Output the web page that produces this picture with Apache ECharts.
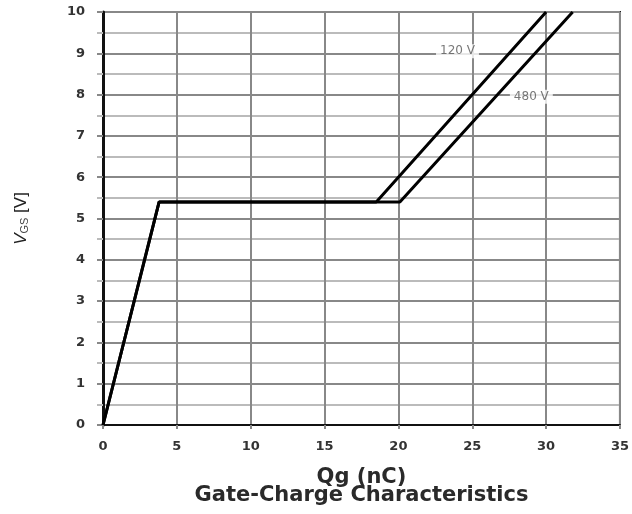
<!DOCTYPE html>
<html><head><meta charset="utf-8">
<script src="https://cdn.jsdelivr.net/npm/echarts@6/dist/echarts.min.js"></script>
<style>html,body{margin:0;padding:0;background:#fff}#c{width:632px;height:514px}</style>
</head><body><div id="c"></div>
<script>
var seriesNames = ['120 V', '480 V'];
var curve120 = [[0, 0], [3.8, 5.4], [18.5, 5.4], [30.0, 10]];
var curve480 = [[0, 0], [3.8, 5.4], [20.1, 5.4], [31.8, 10]];
var labelPoints = [[24.0, 9.05, '120 V'], [29.0, 7.95, '480 V']];
var xTicks = [0, 5, 10, 15, 20, 25, 30, 35];
var yTicks = [0, 1, 2, 3, 4, 5, 6, 7, 8, 9, 10];

var chart = echarts.init(document.getElementById('c'));
var tickLabel = {color: '#333', fontFamily: 'DejaVu Sans', fontWeight: 'bold', fontSize: 13};
chart.setOption({
  animation: false,
  grid: {left: 103, right: 12, top: 12, bottom: 89, show: true, borderColor: '#111', borderWidth: 2},
  xAxis: {
    type: 'value', min: 0, max: 35, interval: 5,
    axisLine: {show: true, lineStyle: {color: '#111', width: 2}},
    axisTick: {show: true, length: 4, lineStyle: {color: '#888', width: 2}},
    axisLabel: Object.assign({margin: 15, formatter: function(v){return xTicks.indexOf(v) >= 0 ? String(v) : '';}}, tickLabel),
    splitLine: {show: true, lineStyle: {color: '#888', width: 2}},
    name: 'Qg (nC)\nGate-Charge Characteristics',
    nameLocation: 'middle', nameGap: 44,
    nameTextStyle: {color: '#2a2a2a', fontFamily: 'DejaVu Sans', fontWeight: 'bold', fontSize: 21, lineHeight: 18}
  },
  yAxis: {
    type: 'value', min: 0, max: 10, interval: 1,
    axisLine: {show: true, lineStyle: {color: '#111', width: 3}},
    axisTick: {show: true, length: 6, lineStyle: {color: '#888', width: 2}},
    axisLabel: Object.assign({margin: 18, formatter: function(v){return yTicks.indexOf(v) >= 0 ? String(v) : '';}}, tickLabel),
    splitLine: {show: true, lineStyle: {color: '#888', width: 2}},
    minorTick: {show: true, splitNumber: 2, length: 6, lineStyle: {color: '#bbb', width: 2}},
    minorSplitLine: {show: true, lineStyle: {color: '#bbb', width: 2}},
    name: '{i|V}{s|GS}{n| [V]}',
    nameLocation: 'middle', nameGap: 73, nameRotate: 90,
    nameTextStyle: {
      color: '#222',
      rich: {
        i: {fontStyle: 'italic', fontSize: 17, fontFamily: 'Liberation Sans, Arial', color: '#222'},
        s: {fontSize: 11, fontFamily: 'Liberation Sans, Arial', color: '#444', verticalAlign: 'bottom', padding: [7, 0, 0, 0]},
        n: {fontSize: 17, fontFamily: 'Liberation Sans, Arial', color: '#222'}
      }
    }
  },
  series: [
    {name: seriesNames[0], type: 'line', data: curve120, symbol: 'none', lineStyle: {color: '#000', width: 3}, z: 5},
    {name: seriesNames[1], type: 'line', data: curve480, symbol: 'none', lineStyle: {color: '#000', width: 3}, z: 5},
    {
      type: 'scatter', symbolSize: 0, z: 6,
      data: labelPoints.map(function(p){return {value: [p[0], p[1]], name: p[2]};}),
      label: {
        show: true, position: 'inside', formatter: '{b}',
        color: '#555', fontSize: 12, fontFamily: 'DejaVu Sans',
        backgroundColor: '#fff', padding: [1, 4]
      }
    }
  ]
});
</script></body></html>
